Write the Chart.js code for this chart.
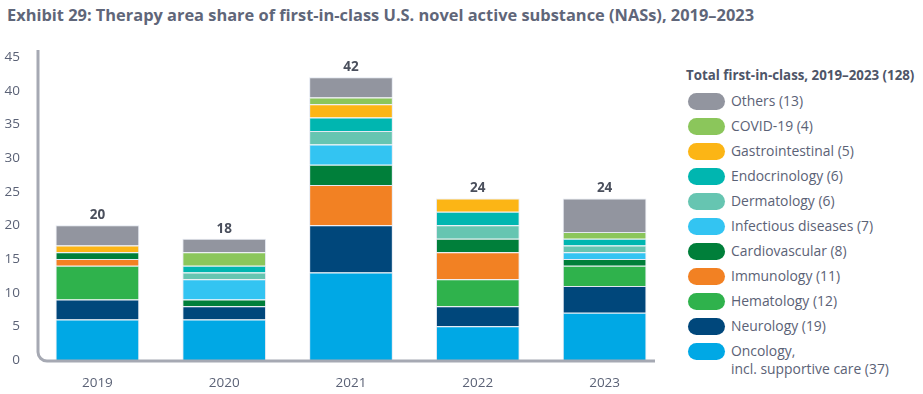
<!DOCTYPE html>
<html>
<head>
<meta charset="utf-8">
<script src="https://cdn.jsdelivr.net/npm/chart.js@4/dist/chart.umd.min.js"></script>
<style>
  html,body{margin:0;padding:0;background:#fff;}
  body{width:923px;height:394px;position:relative;overflow:hidden;font-family:"Open Sans",sans-serif;color:#5b6276;}
  .title{position:absolute;left:7px;top:3px;font-size:16.4px;font-weight:700;color:#5f6679;white-space:nowrap;}
  .wrap{position:absolute;left:0;top:0;width:680px;height:394px;}
  .legend{position:absolute;left:686px;top:66px;}
  .legend h4{margin:0 0 9px 0;font-size:13.3px;font-weight:700;color:#4e5568;white-space:nowrap;}
  .item{display:flex;align-items:flex-start;height:25px;}
  .sw{width:37px;height:17px;border-radius:9px;margin:0 6px 0 2px;flex-shrink:0;}
  .lbl{font-size:13.9px;line-height:18px;margin-top:-1px;white-space:nowrap;}
</style>
</head>
<body>
<div class="title">Exhibit 29: Therapy area share of first-in-class U.S. novel active substance (NASs), 2019–2023</div>
<div class="wrap"><canvas id="c"></canvas></div>
<div class="legend" id="legend"><h4>Total first-in-class, 2019–2023 (128)</h4></div>
<script>
const YEARS = ['2019','2020','2021','2022','2023'];

// stack order bottom -> top
const ONCOLOGY       = [6, 6, 13, 5, 7];
const NEUROLOGY      = [3, 2, 7, 3, 4];
const HEMATOLOGY     = [5, 0, 0, 4, 3];
const IMMUNOLOGY     = [1, 0, 6, 4, 0];
const CARDIOVASCULAR = [1, 1, 3, 2, 1];
const INFECTIOUS     = [0, 3, 3, 0, 1];
const DERMATOLOGY    = [0, 1, 2, 2, 1];
const ENDOCRINOLOGY  = [0, 1, 2, 2, 1];
const GASTRO         = [1, 0, 2, 2, 0];
const COVID          = [0, 2, 1, 0, 1];
const OTHERS         = [3, 2, 3, 0, 5];

const Y_TICKS = [0,5,10,15,20,25,30,35,40,45];

const SERIES = [
  {label:'Oncology,|incl. supportive care (37)', data:ONCOLOGY,       color:'#00a8e5'},
  {label:'Neurology (19)',            data:NEUROLOGY,      color:'#00477b'},
  {label:'Hematology (12)',           data:HEMATOLOGY,     color:'#2fb24c'},
  {label:'Immunology (11)',           data:IMMUNOLOGY,     color:'#f28123'},
  {label:'Cardiovascular (8)',        data:CARDIOVASCULAR, color:'#007f3a'},
  {label:'Infectious diseases (7)',   data:INFECTIOUS,     color:'#33c4f2'},
  {label:'Dermatology (6)',           data:DERMATOLOGY,    color:'#66c5b1'},
  {label:'Endocrinology (6)',         data:ENDOCRINOLOGY,  color:'#00b6b0'},
  {label:'Gastrointestinal (5)',      data:GASTRO,         color:'#fcb515'},
  {label:'COVID-19 (4)',              data:COVID,          color:'#8bc65b'},
  {label:'Others (13)',               data:OTHERS,         color:'#92959f'},
];

const TXT = '#5b6276';

// html legend, top item = top of stack
const lg = document.getElementById('legend');
SERIES.slice().reverse().forEach(s=>{
  const d = document.createElement('div');
  d.className = 'item';
  d.innerHTML = `<div class="sw" style="background:${s.color}"></div><div class="lbl">${s.label.split('|').join('<br>')}</div>`;
  lg.appendChild(d);
});

const axisLine = {
  id:'axisLine',
  afterDatasetsDraw(chart){
    const {ctx, chartArea:a} = chart;
    const x = 38, y = a.bottom + 1, r = 9;
    ctx.save();
    ctx.strokeStyle = '#a6a9b3';
    ctx.lineWidth = 3;
    ctx.beginPath();
    ctx.moveTo(x, 50);
    ctx.lineTo(x, y - r);
    ctx.arcTo(x, y, x + r, y, r);
    ctx.lineTo(655, y);
    ctx.stroke();
    ctx.restore();
  }
};

const totals = {
  id:'totals',
  afterDatasetsDraw(chart){
    const {ctx, scales:{x, y}} = chart;
    ctx.save();
    ctx.font = 'bold 13.5px "Open Sans"';
    ctx.fillStyle = '#4a4f5c';
    ctx.textAlign = 'center';
    ctx.textBaseline = 'bottom';
    YEARS.forEach((yr,i)=>{
      const t = SERIES.reduce((s,d)=>s + d.data[i], 0);
      ctx.fillText(String(t), x.getPixelForValue(i), y.getPixelForValue(t) - 3);
    });
    ctx.restore();
  }
};

new Chart(document.getElementById('c'),{
  type:'bar',
  data:{
    labels:YEARS,
    datasets:SERIES.map(s=>({
      label:s.label,
      data:s.data.map(v=>v||null),
      backgroundColor:s.color,
      borderColor:'rgba(225,230,240,0.9)',
      borderWidth:1,
      barPercentage:0.66,
      categoryPercentage:1
    }))
  },
  options:{
    responsive:true,
    maintainAspectRatio:false,
    animation:false,
    layout:{padding:{top:57,right:12,left:0,bottom:0}},
    plugins:{legend:{display:false},tooltip:{enabled:false}},
    scales:{
      x:{
        stacked:true,
        grid:{display:false},
        border:{display:false},
        ticks:{color:TXT,font:{family:'Open Sans',size:13.5},padding:7},
        afterFit:s=>{s.height = 34;}
      },
      y:{
        stacked:true,
        min:0,max:45,
        afterBuildTicks:s=>{s.ticks = Y_TICKS.map(v=>({value:v}));},
        grid:{display:false},
        border:{display:false},
        ticks:{color:TXT,font:{family:'Open Sans',size:13.5},padding:6},
        afterFit:s=>{s.width = 34;}
      }
    }
  },
  plugins:[axisLine, totals]
});
</script>
</body>
</html>
